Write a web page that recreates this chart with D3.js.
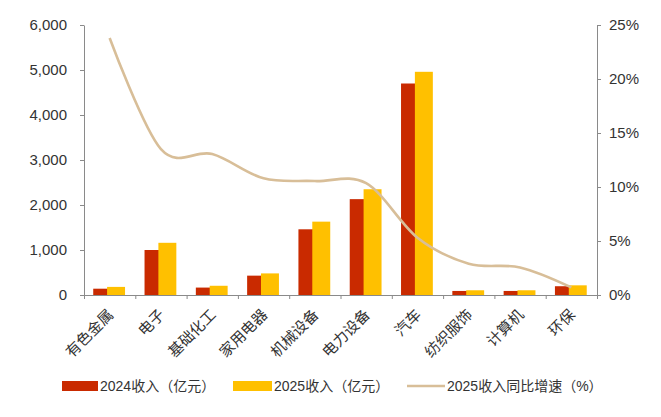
<!DOCTYPE html>
<html><head><meta charset="utf-8">
<script src="https://cdn.jsdelivr.net/npm/d3@7"></script>
<style>
html,body{margin:0;padding:0;background:#fff;}
svg{display:block;}
text{font-family:"Liberation Sans","Noto Sans CJK SC",Arial,sans-serif;fill:#333;}
</style></head>
<body>
<svg id="chart" width="661" height="417"></svg>
<script>
const categories = ["有色金属","电子","基础化工","家用电器","机械设备","电力设备","汽车","纺织服饰","计算机","环保"];
const revenue2024 = [140, 1000, 165, 430, 1460, 2130, 4700, 90, 90, 195];
const revenue2025 = [180, 1160, 205, 480, 1630, 2350, 4960, 105, 105, 215];
const growth2025 = [23.8, 13.5, 13.05, 10.8, 10.55, 10.35, 5.3, 2.9, 2.55, 0.7];
const leftTicks = [0, 1000, 2000, 3000, 4000, 5000, 6000];
const rightTicks = [0, 5, 10, 15, 20, 25];
const seriesNames = ["2024收入（亿元）", "2025收入（亿元）", "2025收入同比增速（%）"];

const C_RED = "#C92A00", C_YEL = "#FFC000", C_LINE = "#D8BE98", C_AXIS = "#8a8a8a";
const L = 84, R = 597, T = 25, B = 295;

const svg = d3.select("#chart");
const x = d3.scaleBand().domain(categories).range([L, R]).padding(0);
const yL = d3.scaleLinear().domain([0, 6000]).range([B, T]);
const yR = d3.scaleLinear().domain([0, 25]).range([B, T]);
const bw = x.bandwidth();
const cx = c => x(c) + bw / 2;

// bars
const barW = bw * 0.35;
svg.append("g").selectAll("rect").data(categories).join("rect")
  .attr("x", (c) => cx(c) - bw * 0.32)
  .attr("width", barW)
  .attr("y", (c, i) => yL(revenue2024[i]))
  .attr("height", (c, i) => B - yL(revenue2024[i]))
  .attr("fill", C_RED);
svg.append("g").selectAll("rect").data(categories).join("rect")
  .attr("x", (c) => cx(c) - bw * 0.05)
  .attr("width", barW)
  .attr("y", (c, i) => yL(revenue2025[i]))
  .attr("height", (c, i) => B - yL(revenue2025[i]))
  .attr("fill", C_YEL);

// line
const line = d3.line().x((d, i) => cx(categories[i])).y(d => yR(d)).curve(d3.curveCardinal.tension(0));
svg.append("path").datum(growth2025).attr("d", line)
  .attr("fill", "none").attr("stroke", C_LINE).attr("stroke-width", 2.6);

// axes
function styleAxis(g) {
  g.selectAll("path,line").attr("stroke", C_AXIS).attr("stroke-width", 1);
  g.selectAll("text").attr("font-size", 15).attr("fill", "#333")
    .attr("font-family", '"Liberation Sans",Arial,sans-serif');
}
svg.append("g").attr("transform", `translate(${L},0)`)
  .call(d3.axisLeft(yL).tickValues(leftTicks).tickFormat(d3.format(",")).tickSize(4).tickSizeOuter(0).tickPadding(13))
  .call(styleAxis);
svg.append("g").attr("transform", `translate(${R},0)`)
  .call(d3.axisRight(yR).tickValues(rightTicks).tickFormat(d => d + "%").tickSize(4).tickSizeOuter(0).tickPadding(8))
  .call(styleAxis);
const xb = d3.scaleLinear().domain([0, categories.length]).range([L, R]);
svg.append("g").attr("transform", `translate(0,${B})`)
  .call(d3.axisBottom(xb).ticks(categories.length).tickFormat("").tickSize(4).tickSizeOuter(0))
  .call(styleAxis);

// x labels
svg.append("g").selectAll("text").data(categories).join("text")
  .attr("transform", c => `translate(${cx(c) + 1},${B + 17}) rotate(-45)`)
  .attr("text-anchor", "end").attr("dy", "0.35em")
  .attr("font-size", 15)
  .attr("font-family", '"Noto Sans CJK SC",sans-serif')
  .text(c => c);

// legend
const lg = svg.append("g").attr("font-size", 14);
const ly = 386;
lg.append("rect").attr("x", 62).attr("y", ly - 5).attr("width", 36).attr("height", 10).attr("fill", C_RED);
lg.append("text").attr("x", 100).attr("y", ly).attr("dy", "0.35em").attr("font-size", 14).text(seriesNames[0]);
lg.append("rect").attr("x", 233).attr("y", ly - 5).attr("width", 39).attr("height", 10).attr("fill", C_YEL);
lg.append("text").attr("x", 274).attr("y", ly).attr("dy", "0.35em").attr("font-size", 14).text(seriesNames[1]);
lg.append("line").attr("x1", 407).attr("x2", 445).attr("y1", ly).attr("y2", ly).attr("stroke", C_LINE).attr("stroke-width", 2.6);
lg.append("text").attr("x", 447).attr("y", ly).attr("dy", "0.35em").attr("font-size", 14).text(seriesNames[2]);
</script>
</body></html>
